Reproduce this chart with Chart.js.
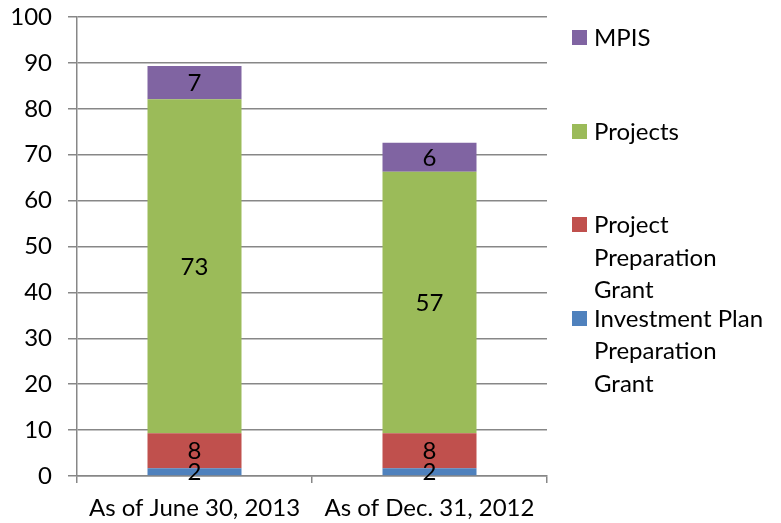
<!DOCTYPE html>
<html>
<head>
<meta charset="utf-8">
<script src="https://cdn.jsdelivr.net/npm/chart.js@4/dist/chart.umd.min.js"></script>
<style>
  html, body { margin: 0; padding: 0; background: #fff; }
  #wrap { position: relative; width: 781px; height: 523px; }
  #chart { position: absolute; left: 0; top: 0; }
  #legend { position: absolute; left: 572px; top: 21px; font-family: Lato, sans-serif; font-size: 24px; color: #000; }
  .item { position: relative; height: 93.5px; padding-left: 22px; line-height: 32.5px; }
  .box { position: absolute; left: 0; top: 9px; width: 15px; height: 15px; }
</style>
</head>
<body>
<div id="wrap">
  <canvas id="chart" width="781" height="523"></canvas>
  <div id="legend"></div>
</div>
<script>
const categories = ['As of June 30, 2013', 'As of Dec. 31, 2012'];
const seriesNames = ['Investment Plan Preparation Grant', 'Project Preparation Grant', 'Projects', 'MPIS'];
const investmentPlanGrant = [1.7, 1.7];
const projectPrepGrant = [7.6, 7.6];
const projects = [72.8, 57.0];
const mpis = [7.2, 6.3];
const yTicks = [0, 10, 20, 30, 40, 50, 60, 70, 80, 90, 100];

const colors = ['#4F81BD', '#C0504D', '#9BBB59', '#8064A2'];
// legend lines, wrapped like the original
const legendLines = [['Investment Plan', 'Preparation', 'Grant'], ['Project', 'Preparation', 'Grant'], ['Projects'], ['MPIS']];

const gridColor = '#878787';
const font = { family: 'Lato, sans-serif', size: 24 };

const values = [investmentPlanGrant, projectPrepGrant, projects, mpis];
const datasets = values.map(function (v, i) {
    return {
        label: seriesNames[i],
        data: v,
        backgroundColor: colors[i],
        borderWidth: 0,
        categoryPercentage: 1,
        barPercentage: 0.4
    };
});

// value labels in the middle of each segment
const segmentLabels = {
    id: 'segmentLabels',
    afterDatasetsDraw(chart) {
        const ctx = chart.ctx;
        ctx.save();
        ctx.font = '24px Lato, sans-serif';
        ctx.fillStyle = '#000';
        ctx.textAlign = 'center';
        ctx.textBaseline = 'middle';
        chart.data.datasets.forEach(function (ds, di) {
            const meta = chart.getDatasetMeta(di);
            meta.data.forEach(function (bar, i) {
                const mid = (bar.y + bar.base) / 2;
                ctx.fillText(String(Math.round(ds.data[i])), bar.x, mid + 1);
            });
        });
        ctx.restore();
    }
};

new Chart(document.getElementById('chart').getContext('2d'), {
    type: 'bar',
    data: { labels: categories, datasets: datasets },
    options: {
        responsive: false,
        animation: false,
        layout: { padding: { left: 0, top: 17, right: 234, bottom: 0 } },
        plugins: {
            legend: { display: false },
            tooltip: { enabled: false }
        },
        scales: {
            x: {
                stacked: true,
                grid: { display: true, drawOnChartArea: false, color: gridColor, lineWidth: 1.5, tickLength: 7 },
                border: { color: gridColor, width: 1.5 },
                ticks: { color: '#000', font: font, padding: 11, maxRotation: 0 },
                afterFit(scale) { scale.height = 47; }
            },
            y: {
                stacked: true,
                min: 0,
                max: 100,
                grid: { color: gridColor, lineWidth: 1.5, tickLength: 9 },
                border: { color: gridColor, width: 1.5 },
                ticks: {
                    color: '#000',
                    font: font,
                    padding: 16,
                    stepSize: 10,
                    callback: function (v) { return yTicks.includes(v) ? v : ''; }
                },
                afterFit(scale) {
                    scale.width = 77;
                    scale.paddingTop = 0;
                    scale.paddingBottom = 0;
                }
            }
        }
    },
    plugins: [segmentLabels]
});

// html legend, top item first
const legendEl = document.getElementById('legend');
for (let i = seriesNames.length - 1; i >= 0; i--) {
    const item = document.createElement('div');
    item.className = 'item';
    item.innerHTML = '<span class="box" style="background:' + colors[i] + '"></span>' + legendLines[i].join('<br>');
    legendEl.appendChild(item);
}
</script>
</body>
</html>
